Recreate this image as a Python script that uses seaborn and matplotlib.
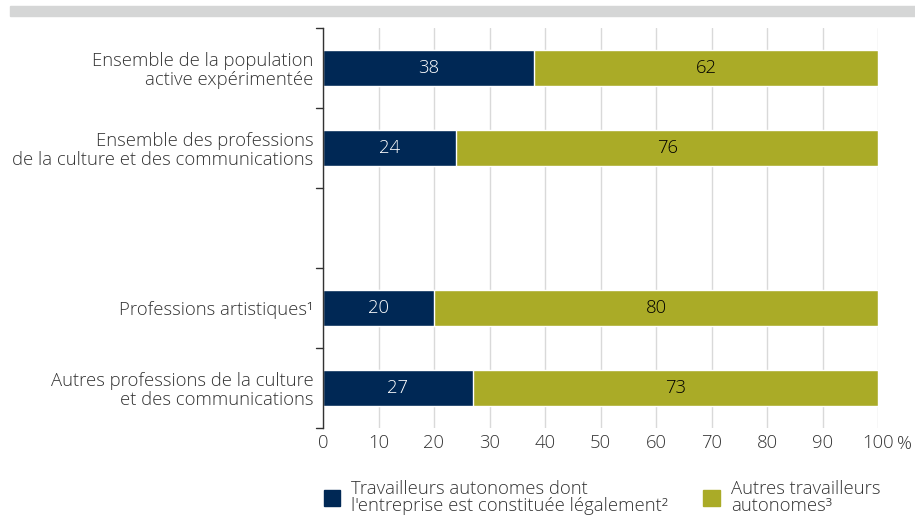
import matplotlib
matplotlib.use("Agg")
import matplotlib.pyplot as plt
import matplotlib.patches as mpatches
import pandas as pd
import seaborn as sns

# Data
categories = [
    "Ensemble de la population\nactive expérimentée",
    "Ensemble des professions\nde la culture et des communications",
    " ",
    "Professions artistiques¹",
    "Autres professions de la culture\net des communications",
]
incorporated = [38, 24, None, 20, 27]
others = [62, 76, None, 80, 73]
legend_labels = [
    "Travailleurs autonomes dont\nl'entreprise est constituée légalement²",
    "Autres travailleurs\nautonomes³",
]
x_ticks = [0, 10, 20, 30, 40, 50, 60, 70, 80, 90, 100]

NAVY = "#002855"
OLIVE = "#aaab27"
GRID = "#d9d9d9"
TXT = "#333333"
FS = 13.3

sns.set_style("white")
plt.rcParams["font.family"] = ["Open Sans", "DejaVu Sans"]
plt.rcParams["font.weight"] = "light"

df = pd.DataFrame({"cat": categories, "inc": incorporated, "oth": others})
df["total"] = df["inc"] + df["oth"]
plot_df = df.dropna()

fig = plt.figure(figsize=(9.15, 5.16), dpi=100)
ax = fig.add_axes([323 / 915, 1 - 428 / 516, 555 / 915, 400 / 516])

sns.barplot(data=plot_df, y="cat", x="total", order=categories, color=OLIVE,
            orient="h", width=0.46, saturation=1, ax=ax)
sns.barplot(data=plot_df, y="cat", x="inc", order=categories, color=NAVY,
            orient="h", width=0.46, saturation=1, ax=ax)

for i, row in df.iterrows():
    if pd.isna(row["inc"]):
        continue
    ax.text(row["inc"] / 2, i, f"{int(row['inc'])}", ha="center", va="center",
            color="white", fontsize=FS)
    ax.text(row["inc"] + row["oth"] / 2, i, f"{int(row['oth'])}", ha="center",
            va="center", color="black", fontsize=FS)

ax.set_xlim(0, 100)
ax.set_ylim(len(categories) - 0.5, -0.5)
ax.set_xticks(x_ticks)
ax.set_xticklabels([str(t) for t in x_ticks], fontsize=FS, color=TXT)
ax.text(103.4, -0.018, "%", transform=ax.get_xaxis_transform(), fontsize=FS, color=TXT,
        ha="left", va="top")
ax.xaxis.grid(True, color=GRID, linewidth=1)
ax.set_axisbelow(True)
ax.tick_params(axis="x", length=0, pad=4)

ax.set_yticks(range(len(categories)))
ax.set_yticklabels(categories, fontsize=FS, color=TXT, linespacing=1.05)
ax.tick_params(axis="y", length=0, pad=7)
for b in [i - 0.5 for i in range(len(categories) + 1)]:
    ax.plot([-1.3, 0], [b, b], color=TXT, linewidth=1, clip_on=False)

ax.set_xlabel("")
ax.set_ylabel("")
for side in ["top", "right", "bottom"]:
    ax.spines[side].set_visible(False)
ax.spines["left"].set_color(TXT)
ax.spines["left"].set_linewidth(1)

# grey band at the top
fig.patches.append(mpatches.Rectangle((10 / 915, 1 - 16 / 516), 905 / 915, 10 / 516,
                                      transform=fig.transFigure, color="#d5d6d6"))

handles = [mpatches.Patch(color=NAVY), mpatches.Patch(color=OLIVE)]
fig.legend(handles, legend_labels, loc="upper left", bbox_to_anchor=(307 / 915, 1 - 463 / 516),
           ncol=2, frameon=False, fontsize=FS, handlelength=0.9, handleheight=0.9,
           columnspacing=1.9, handletextpad=0.6, labelcolor=TXT, labelspacing=0.2)
for t in fig.legends[0].get_texts():
    t.set_linespacing(0.95)

fig.savefig("out.png", dpi=100)
